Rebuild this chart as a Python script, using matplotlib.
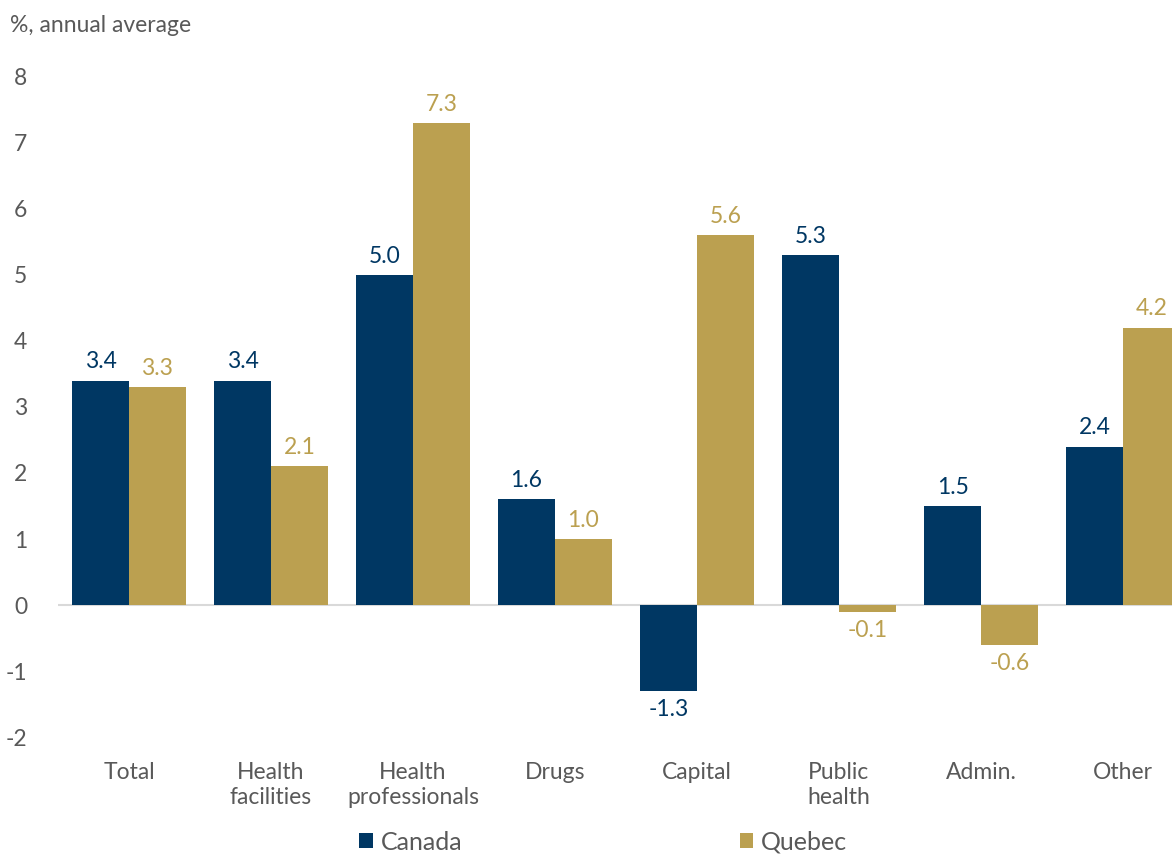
import matplotlib.pyplot as plt
import numpy as np

# data
categories = ["Total", "Health\nfacilities", "Health\nprofessionals", "Drugs",
              "Capital", "Public\nhealth", "Admin.", "Other"]
canada = [3.4, 3.4, 5.0, 1.6, -1.3, 5.3, 1.5, 2.4]
quebec = [3.3, 2.1, 7.3, 1.0, 5.6, -0.1, -0.6, 4.2]
yticks = [-2, -1, 0, 1, 2, 3, 4, 5, 6, 7, 8]

navy = "#003763"
gold = "#BBA050"
grey = "#595959"

plt.rcParams['font.family'] = ['Lato', 'DejaVu Sans']

W, H = 1172, 858
fig = plt.figure(figsize=(W / 100, H / 100), dpi=100)
# axes run past the right edge like in the reference crop
ax = fig.add_axes([58 / W, (858 - 737) / H, 1136 / W, (737 - 77) / H])

x = np.arange(len(categories))
w = 0.4
b1 = ax.bar(x - w / 2, canada, w, color=navy, label="Canada")
b2 = ax.bar(x + w / 2, quebec, w, color=gold, label="Quebec")

ax.bar_label(b1, labels=[f"{v:.1f}" for v in canada], padding=6, color=navy, fontsize=16.5)
ax.bar_label(b2, labels=[f"{v:.1f}" for v in quebec], padding=6, color=gold, fontsize=16.5)

ax.set_xlim(-0.5, len(categories) - 0.5)
ax.set_ylim(-2, 8)
ax.set_yticks(yticks)
ax.set_yticklabels([str(t) for t in yticks])
ax.set_xticks(x)
ax.set_xticklabels(categories, linespacing=1.25)
ax.tick_params(axis='both', length=0, labelsize=16.5, labelcolor=grey)
ax.tick_params(axis='y', pad=22)
ax.tick_params(axis='x', pad=18)
for s in ax.spines.values():
    s.set_visible(False)
ax.axhline(0, color="#d9d9d9", lw=1.5, zorder=0)

fig.text(10 / W, 1 - 25 / H, "%, annual average", fontsize=16.5, color=grey, va='center')

fig.legend(handles=[b1, b2], loc='center', bbox_to_anchor=(603 / W, 1 - 842 / H),
           ncol=2, frameon=False, fontsize=18, handlelength=0.55, handleheight=0.55,
           handletextpad=0.3, columnspacing=11.1, labelcolor=grey)

fig.savefig("out.png", dpi=100)
